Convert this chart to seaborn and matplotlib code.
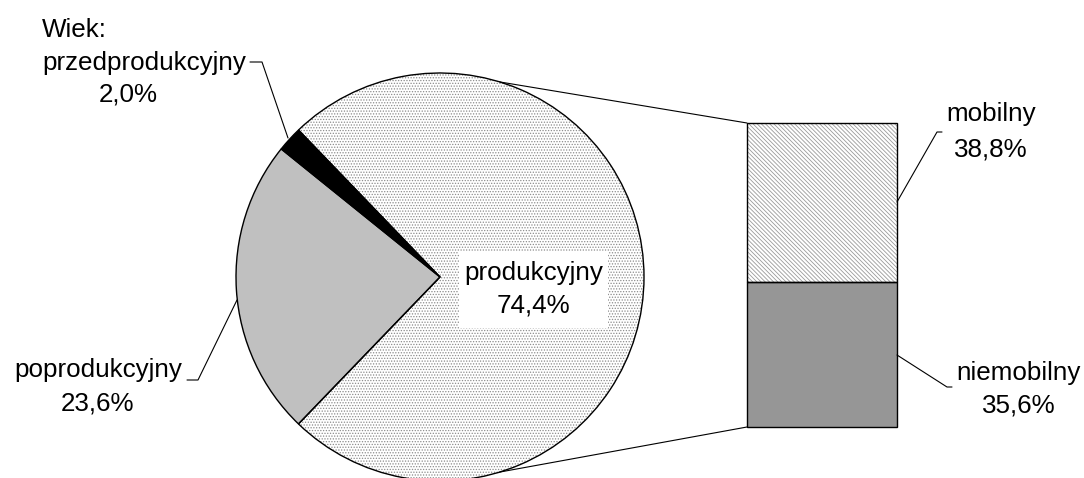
import math

import matplotlib.pyplot as plt
import seaborn as sns
from matplotlib.lines import Line2D
from matplotlib.patches import ConnectionPatch, Rectangle

# age groups (pie) and the split of the working-age group (bar)
age_labels = ["produkcyjny", "przedprodukcyjny", "poprodukcyjny"]
age_shares = [74.4, 2.0, 23.6]
age_text = ["74,4%", "2,0%", "23,6%"]

mob_labels = ["niemobilny", "mobilny"]
mob_shares = [35.6, 38.8]
mob_text = ["35,6%", "38,8%"]

sns.set_theme(style="white")
plt.rcParams["font.family"] = ["Liberation Sans", "DejaVu Sans"]
plt.rcParams["hatch.linewidth"] = 0.6
FS = 18.7

W, H = 1084, 478


def fx(x):
    return x / W


def fy(y):
    return 1 - y / H


fig = plt.figure(figsize=(W / 100, H / 100), dpi=100)
fig.patch.set_facecolor("white")

# pie: centre (440, 277), radius 204 px
r = 204
ax_pie = fig.add_axes([fx(440 - r), fy(277 + r), 2 * r / W, 2 * r / H])
start = -age_shares[0] / 100 * 180
pie_kw = dict(startangle=start, counterclock=True, radius=1, normalize=True)
ax_pie.pie(age_shares, colors=["white", "black", "#c0c0c0"], hatch=["......", "", ""],
           wedgeprops=dict(linewidth=0, edgecolor="#8c8c8c"), **pie_kw)
wedges, _ = ax_pie.pie(age_shares, colors=["none"] * 3,
                       wedgeprops=dict(linewidth=1, edgecolor="black"), **pie_kw)
for w in wedges:
    w.set_clip_on(False)
ax_pie.set_xlim(-1, 1)
ax_pie.set_ylim(-1, 1)
ax_pie.set_aspect("auto")
ax_pie.axis("off")

# stacked bar for the working-age group
ax_bar = fig.add_axes([fx(747), fy(427), 150 / W, (427 - 123) / H])
bottoms = [0, mob_shares[0]]
ax_bar.bar([0, 0], mob_shares, bottom=bottoms, width=1,
           color=["#969696", "white"], hatch=["", "\\\\\\\\\\\\\\\\"],
           edgecolor="#9a9a9a", linewidth=0)
bars = ax_bar.bar([0, 0], mob_shares, bottom=bottoms, width=1,
                  color="none", edgecolor="black", linewidth=1)
for b in bars:
    b.set_clip_on(False)
ax_bar.set_xlim(-0.5, 0.5)
ax_bar.set_ylim(0, sum(mob_shares))
ax_bar.axis("off")

# lines from the pie to the bar
for ang, yb in [(73, sum(mob_shares)), (-73, 0)]:
    con = ConnectionPatch(xyA=(math.cos(math.radians(ang)), math.sin(math.radians(ang))),
                          coordsA=ax_pie.transData, xyB=(-0.5, yb), coordsB=ax_bar.transData,
                          color="black", linewidth=0.8)
    fig.add_artist(con)

# white box behind the main label
fig.add_artist(Rectangle((fx(459), fy(328)), 149 / W, 76 / H, transform=fig.transFigure,
                         facecolor="white", edgecolor="none", zorder=2))


def txt(x, y, s, ha="center"):
    fig.text(fx(x), fy(y), s, ha=ha, va="baseline", fontsize=FS, color="black", zorder=4)


def leader(pts):
    xs = [fx(p[0]) for p in pts]
    ys = [fy(p[1]) for p in pts]
    fig.add_artist(Line2D(xs, ys, transform=fig.transFigure, color="black", linewidth=0.8))


txt(533.5, 280, age_labels[0])
txt(533.5, 313, age_text[0])

txt(42, 37, "Wiek:", ha="left")
txt(42, 70, age_labels[1], ha="left")
txt(128, 101.5, age_text[1])
leader([(250, 62), (262, 62), (288, 138)])

txt(98, 377, age_labels[2])
txt(97, 410, age_text[2])
leader([(187, 380), (198, 380), (237, 300)])

txt(991, 121.5, mob_labels[1])
txt(991, 156, mob_text[1])
leader([(897, 202), (937, 132), (942, 132)])

txt(1019, 380, mob_labels[0])
txt(1019, 413, mob_text[0])
leader([(897, 355), (947, 387), (952, 387)])

fig.savefig("out.png", dpi=100)
